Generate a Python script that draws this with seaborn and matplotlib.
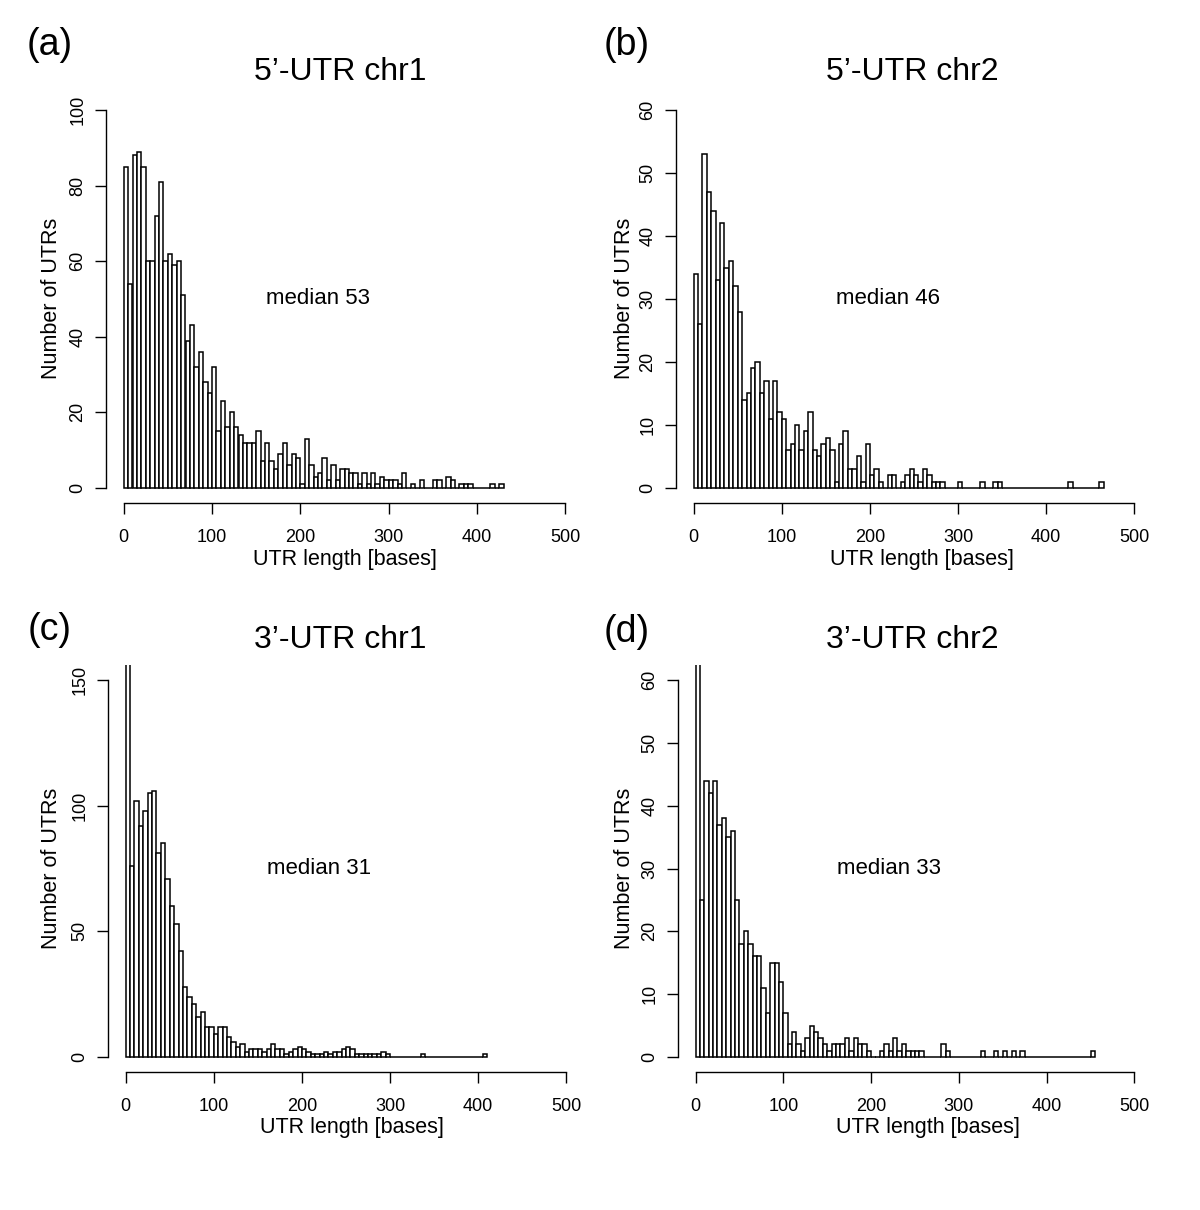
import numpy as np
import pandas as pd
import seaborn as sns
import matplotlib.pyplot as plt

BIN_WIDTH = 5  # bases per bin

# counts per 5-base bin (first bin starts at 0)
utr5_chr1 = [85, 54, 88, 89, 85, 60, 60, 72, 81, 60, 62, 59, 60, 51, 39, 43, 32, 36, 28, 25,
             32, 15, 23, 16, 20, 16, 14, 12, 12, 12, 15, 7, 12, 7, 5, 9, 12, 6, 9, 8,
             1, 13, 6, 3, 4, 8, 2, 6, 2, 5, 5, 4, 4, 1, 4, 1, 4, 1, 3, 2,
             2, 2, 1, 4, 0, 1, 0, 2, 0, 0, 2, 2, 0, 3, 2, 0, 1, 1, 1, 0,
             0, 0, 0, 1, 0, 1]
utr5_chr2 = [34, 26, 53, 47, 44, 33, 42, 35, 36, 32, 28, 14, 15, 19, 20, 15, 17, 11, 17, 12,
             11, 6, 7, 10, 6, 9, 12, 6, 5, 7, 8, 6, 1, 7, 9, 3, 3, 5, 1, 7,
             2, 3, 1, 0, 2, 2, 0, 1, 2, 3, 2, 1, 3, 2, 1, 1, 1, 0, 0, 0,
             1, 0, 0, 0, 0, 1, 0, 0, 1, 1, 0, 0, 0, 0, 0, 0, 0, 0, 0, 0,
             0, 0, 0, 0, 0, 1, 0, 0, 0, 0, 0, 0, 1]
utr3_chr1 = [175, 76, 102, 92, 98, 105, 106, 81, 85, 71, 60, 53, 42, 28, 24, 21, 16, 18, 12, 12,
             9, 12, 12, 8, 6, 4, 5, 2, 3, 3, 3, 2, 3, 5, 3, 3, 1, 2, 3, 4,
             3, 2, 1, 1, 1, 2, 1, 2, 2, 3, 4, 3, 1, 1, 1, 1, 1, 1, 2, 1,
             0, 0, 0, 0, 0, 0, 0, 1, 0, 0, 0, 0, 0, 0, 0, 0, 0, 0, 0, 0,
             0, 1]
utr3_chr2 = [70, 25, 44, 42, 44, 37, 38, 35, 36, 25, 18, 20, 18, 16, 16, 11, 7, 15, 15, 12,
             7, 2, 4, 2, 1, 3, 5, 4, 3, 2, 1, 2, 2, 2, 3, 1, 3, 2, 2, 1,
             0, 0, 1, 2, 1, 3, 1, 2, 1, 1, 1, 1, 0, 0, 0, 0, 2, 1, 0, 0,
             0, 0, 0, 0, 0, 1, 0, 0, 1, 0, 1, 0, 1, 0, 1, 0, 0, 0, 0, 0,
             0, 0, 0, 0, 0, 0, 0, 0, 0, 0, 1]

panel_letters = ["(a)", "(b)", "(c)", "(d)"]
titles = ["5\u2019-UTR chr1", "5\u2019-UTR chr2", "3\u2019-UTR chr1", "3\u2019-UTR chr2"]
medians = [53, 46, 31, 33]
y_max = [100, 60, 150, 60]
y_step = [20, 10, 50, 10]

sns.set_style("white")
plt.rcParams["font.family"] = ["Liberation Sans", "DejaVu Sans"]
plt.rcParams["text.color"] = "black"
plt.rcParams["axes.labelcolor"] = "black"

W, H = 1200, 1210
fig = plt.figure(figsize=(W / 100, H / 100), dpi=100)


def px(x, y):
    return x / W, 1 - y / H


# panel frames in pixels: left, top, right, bottom (R-style 4% padded region)
frames = [(106, 95, 583, 503), (676, 95, 1152, 503),
          (108, 665, 584, 1072), (678, 665, 1152, 1072)]
letter_pos = [(50, 45), (627, 45), (50, 630), (627, 632)]
title_pos = [(340, 72), (912, 72), (340, 640), (912, 640)]
ylab_pos = [(52, 298), (624, 298), (52, 868), (624, 868)]
xlab_pos = [(345, 559), (922, 559), (352, 1127), (928, 1127)]

data = [utr5_chr1, utr5_chr2, utr3_chr1, utr3_chr2]

for i, counts in enumerate(data):
    l, t, r, b = frames[i]
    ax = fig.add_axes([l / W, 1 - b / H, (r - l) / W, (b - t) / H])

    edges = [k * BIN_WIDTH for k in range(len(counts) + 1)]
    df = pd.DataFrame({
        "length": [e + BIN_WIDTH / 2 for e in edges[:-1]],
        "n": counts,
    })
    sns.histplot(data=df, x="length", weights="n", bins=edges, ax=ax,
                 color="white", edgecolor="black", linewidth=1.1, alpha=1)

    top = y_max[i]
    ax.set_xlim(-20, 520)
    ax.set_ylim(-0.04 * top, 1.04 * top)
    ax.set_xticks(np.arange(0, 501, 100))
    ax.set_yticks(np.arange(0, top + 1, y_step[i]))
    ax.set_xlabel("")
    ax.set_ylabel("")
    for s in ["top", "right"]:
        ax.spines[s].set_visible(False)
    ax.spines["left"].set_bounds(0, top)
    ax.spines["bottom"].set_bounds(0, 500)
    for s in ["left", "bottom"]:
        ax.spines[s].set_color("black")
        ax.spines[s].set_linewidth(1.0)
    ax.tick_params(bottom=True, left=True, direction="out", length=8,
                   width=1.0, color="black", labelsize=13, labelcolor="black")
    ax.tick_params(axis="x", pad=11)
    ax.tick_params(axis="y", pad=6)
    for lab in ax.get_yticklabels():
        lab.set_rotation(90)
        lab.set_va("center")

    ax.text(220, top / 2, f"median {medians[i]}", ha="center", va="center",
            fontsize=16)

    fig.text(*px(*letter_pos[i]), panel_letters[i], ha="center", va="center",
             fontsize=27)
    fig.text(*px(*title_pos[i]), titles[i], ha="center", va="center",
             fontsize=23)
    fig.text(*px(*ylab_pos[i]), "Number of UTRs", ha="center", va="center",
             rotation=90, fontsize=15.5)
    fig.text(*px(*xlab_pos[i]), "UTR length [bases]", ha="center", va="center",
             fontsize=15.5)

fig.savefig("out.png", dpi=100, facecolor="white")
